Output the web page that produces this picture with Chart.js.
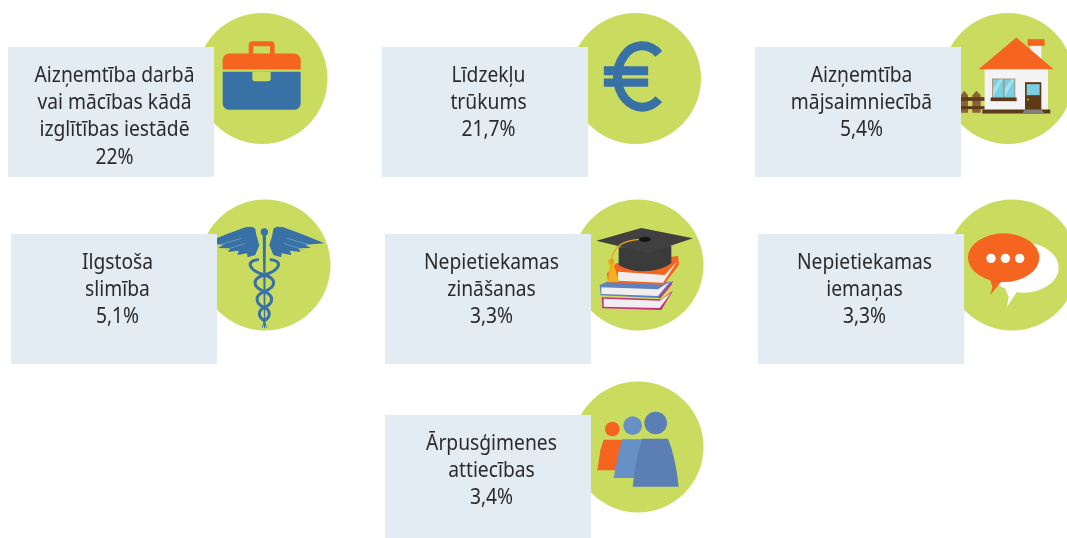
<!DOCTYPE html>
<html>
<head>
<meta charset="utf-8">
<style>
  html, body { margin: 0; padding: 0; background: #fff; overflow: hidden; }
  canvas { display: block; }
</style>
<script src="https://cdn.jsdelivr.net/npm/chart.js@4"></script>
</head>
<body>
<canvas id="chart" width="1067" height="538"></canvas>
<script>
// reasons and their shares
const categories = [
  ['Aizņemtība darbā', 'vai mācības kādā', 'izglītības iestādē'],
  ['Līdzekļu', 'trūkums'],
  ['Aizņemtība', 'mājsaimniecībā'],
  ['Ilgstoša', 'slimība'],
  ['Nepietiekamas', 'zināšanas'],
  ['Nepietiekamas', 'iemaņas'],
  ['Ārpusģimenes', 'attiecības']
];
const values = [22, 21.7, 5.4, 5.1, 3.3, 3.3, 3.4];

// layout, in page pixels
const circleX = [262, 635.5, 1008, 265, 638, 1012, 638];
const circleY = [78.5, 78.5, 78.5, 265, 265, 265, 447];
const cardX = [111, 485, 858, 114, 488, 861, 488];
const cardY = [112, 112, 112, 299, 299, 299, 480];

const GREEN = '#c9dc5f';
const ORANGE = '#f5651f';
const BLUE = '#3871a6';
const CARD = '#e3ecf2';
const TEXT = '#2b2b2d';

function poly(ctx, pts, color) {
  ctx.fillStyle = color;
  ctx.beginPath();
  pts.forEach((p, i) => i ? ctx.lineTo(p[0], p[1]) : ctx.moveTo(p[0], p[1]));
  ctx.closePath();
  ctx.fill();
}
function box(ctx, x0, y0, x1, y1, color, radii) {
  ctx.fillStyle = color;
  ctx.beginPath();
  ctx.roundRect(x0, y0, x1 - x0, y1 - y0, radii || 0);
  ctx.fill();
}
function dot(ctx, x, y, r, color) {
  ctx.fillStyle = color;
  ctx.beginPath();
  ctx.arc(x, y, r, 0, Math.PI * 2);
  ctx.fill();
}

// icons are written in 3x units, around the circle centre given as ox, oy
const icons = [
  { ox: 787, oy: 235, draw(ctx) {
    box(ctx, 747, 123, 825, 170, ORANGE, [12, 12, 0, 0]);
    box(ctx, 761, 138, 811, 165, GREEN);
    box(ctx, 669, 160, 903, 208, ORANGE, [20, 20, 0, 0]);
    box(ctx, 669, 215, 903, 329, BLUE, [0, 0, 20, 20]);
    box(ctx, 758, 215, 813, 243, GREEN, [0, 0, 8, 8]);
  } },
  { ox: 797, oy: 235, draw(ctx) {
    ctx.strokeStyle = BLUE;
    ctx.lineWidth = 27;
    ctx.beginPath();
    ctx.ellipse(817, 229, 74, 92, 0, -0.83, 0.83, true);
    ctx.stroke();
    box(ctx, 702, 198, 835, 225, BLUE);
    box(ctx, 702, 235, 835, 260, BLUE);
  } },
  { ox: 805, oy: 235, draw(ctx) {
    const brown = '#5f3a17';
    // fence
    [[663, 685], [698, 723]].forEach(p => {
      poly(ctx, [[p[0], 338], [p[0], 285], [(p[0] + p[1]) / 2, 272], [p[1], 285], [p[1], 338]], '#8a6238');
    });
    box(ctx, 640, 291, 735, 302, brown);
    box(ctx, 640, 318, 735, 327, brown);
    // house
    box(ctx, 873, 130, 905, 180, '#f4f4f6');
    box(ctx, 864, 117, 915, 137, ORANGE);
    box(ctx, 735, 205, 925, 330, '#f4f4f6');
    poly(ctx, [[717, 207], [830, 112], [942, 207]], ORANGE);
    box(ctx, 757, 235, 827, 293, '#a89880');
    box(ctx, 760, 238, 790, 291, '#7ad0e2');
    box(ctx, 795, 238, 824, 291, '#7ad0e2');
    poly(ctx, [[760, 291], [760, 265], [780, 238], [790, 238]], '#a5e0ec');
    poly(ctx, [[795, 291], [795, 265], [815, 238], [824, 238]], '#a5e0ec');
    box(ctx, 753, 292, 831, 303, brown);
    box(ctx, 856, 246, 905, 330, brown);
    box(ctx, 861, 252, 900, 285, '#7ad0e2');
    dot(ctx, 865, 298, 3, '#e9a21a');
    box(ctx, 728, 328, 932, 340, brown);
    poly(ctx, [[855, 328], [905, 328], [915, 341], [848, 341]], '#808080');
  } },
  { ox: 795, oy: 225, draw(ctx) {
    poly(ctx, [[788, 125], [798, 125], [795, 415], [792, 415]], BLUE);
    dot(ctx, 793, 126, 11, BLUE);
    const wing = [[817, 135], [820, 116], [830, 110], [850, 112], [905, 132], [973, 160], [915, 164], [932, 174],
      [895, 175], [902, 186], [870, 182], [874, 195], [845, 190], [843, 202], [820, 195], [808, 165]];
    poly(ctx, wing, BLUE);
    poly(ctx, wing.map(p => [1586 - p[0], p[1]]), BLUE);
    // thin slits between the feathers
    ctx.strokeStyle = '#7ea7bd';
    ctx.lineWidth = 2;
    [1, -1].forEach(s => {
      const x = d => 793 + s * d;
      ctx.beginPath();
      ctx.moveTo(x(68), 145);
      ctx.lineTo(x(138), 165);
      ctx.moveTo(x(58), 160);
      ctx.lineTo(x(118), 180);
      ctx.stroke();
    });
    ctx.strokeStyle = BLUE;
    ctx.lineWidth = 9;
    ctx.lineCap = 'round';
    [1, -1].forEach(s => {
      const x = d => 793 + s * d;
      ctx.beginPath();
      ctx.moveTo(x(20), 209);
      ctx.bezierCurveTo(x(55), 212, x(50), 240, x(0), 255);
      ctx.bezierCurveTo(x(-37), 265, x(-37), 290, x(0), 305);
      ctx.bezierCurveTo(x(29), 316, x(29), 340, x(0), 352);
      ctx.bezierCurveTo(x(-20), 362, x(-20), 380, x(0), 392);
      ctx.stroke();
      ctx.lineWidth = 3;
      ctx.beginPath();
      ctx.moveTo(x(0), 392);
      ctx.lineTo(x(6), 412);
      ctx.stroke();
      ctx.lineWidth = 9;
    });
    ctx.lineCap = 'butt';
  } },
  { ox: 805, oy: 225, draw(ctx) {
    const paper = '#f1eeef';
    // books, bottom up
    poly(ctx, [[696, 322], [875, 328], [910, 302], [875, 360], [698, 355]], '#c7307f');
    poly(ctx, [[702, 326], [870, 332], [903, 310], [870, 354], [702, 350]], paper);
    poly(ctx, [[690, 285], [712, 275], [910, 275], [870, 324], [693, 316]], '#5d82bd');
    poly(ctx, [[866, 322], [910, 272], [906, 284], [872, 325]], '#c7307f');
    poly(ctx, [[695, 292], [865, 298], [900, 275], [865, 318], [695, 312]], paper);
    poly(ctx, [[740, 220], [925, 198], [928, 225], [882, 284], [715, 277], [712, 250]], ORANGE);
    poly(ctx, [[745, 245], [885, 255], [922, 215], [880, 278], [745, 272]], paper);
    // cap
    ctx.fillStyle = '#3b3b3b';
    ctx.beginPath();
    ctx.moveTo(747, 172);
    ctx.lineTo(747, 225);
    ctx.bezierCurveTo(790, 252, 865, 250, 905, 220);
    ctx.lineTo(905, 168);
    ctx.closePath();
    ctx.fill();
    poly(ctx, [[680, 152], [815, 114], [970, 145], [835, 190]], '#404040');
    ctx.fillStyle = '#161616';
    ctx.beginPath();
    ctx.ellipse(825, 148, 18, 8, 0, 0, Math.PI * 2);
    ctx.fill();
    // tassel
    ctx.strokeStyle = '#e9a21a';
    ctx.lineWidth = 4;
    ctx.beginPath();
    ctx.moveTo(808, 148);
    ctx.bezierCurveTo(765, 152, 728, 165, 725, 215);
    ctx.stroke();
    poly(ctx, [[720, 222], [731, 222], [749, 275], [715, 277]], '#f2b01e');
    dot(ctx, 725, 215, 9, '#e9a21a');
  } },
  { ox: 815, oy: 225, draw(ctx) {
    ctx.fillStyle = '#fff';
    ctx.beginPath();
    ctx.ellipse(850, 233, 105, 75, 0, 0, Math.PI * 2);
    ctx.fill();
    poly(ctx, [[790, 285], [830, 305], [800, 350], [805, 320]], '#fff');
    ctx.fillStyle = ORANGE;
    ctx.beginPath();
    ctx.ellipse(790, 203, 107, 73, 0, 0, Math.PI * 2);
    ctx.fill();
    poly(ctx, [[748, 265], [785, 272], [750, 315], [756, 290]], ORANGE);
    [752, 795, 838].forEach(x => dot(ctx, x, 205, 14, '#fff'));
  } },
  { ox: 805, oy: 230, draw(ctx) {
    dot(ctx, 728, 176, 22, ORANGE);
    poly(ctx, [[702, 208], [760, 208], [760, 300], [683, 300], [692, 240]], ORANGE);
    dot(ctx, 789, 166, 28, '#6690c6');
    poly(ctx, [[757, 207], [825, 207], [825, 323], [732, 323], [745, 255]], '#6690c6');
    dot(ctx, 858, 158, 34, '#5b7fb4');
    ctx.fillStyle = '#5b7fb4';
    ctx.beginPath();
    ctx.moveTo(818, 205);
    ctx.lineTo(895, 205);
    ctx.quadraticCurveTo(918, 260, 927, 349);
    ctx.lineTo(789, 349);
    ctx.quadraticCurveTo(798, 260, 818, 205);
    ctx.fill();
  } }
];

const cardImage = document.createElement('canvas');
cardImage.width = 206;
cardImage.height = 130;
const cardCtx = cardImage.getContext('2d');
cardCtx.fillStyle = CARD;
cardCtx.fillRect(0, 0, 206, 130);

// icons go between the circles and the cards
const iconPlugin = {
  id: 'icons',
  afterDatasetDraw(chart, args) {
    if (args.index !== 1) return;
    const ctx = chart.ctx;
    const points = chart.getDatasetMeta(1).data;
    icons.forEach((icon, i) => {
      ctx.save();
      ctx.translate(points[i].x, points[i].y);
      ctx.scale(1 / 3, 1 / 3);
      ctx.translate(-icon.ox, -icon.oy);
      icon.draw(ctx);
      ctx.restore();
    });
  }
};

const labelPlugin = {
  id: 'labels',
  afterDatasetsDraw(chart) {
    const ctx = chart.ctx;
    const points = chart.getDatasetMeta(0).data;
    ctx.save();
    ctx.font = '22px "Noto Sans"';
    ctx.fillStyle = TEXT;
    ctx.textAlign = 'center';
    ctx.textBaseline = 'alphabetic';
    categories.forEach((lines, i) => {
      const text = lines.concat(String(values[i]).replace('.', ',') + '%');
      const top = points[i].y - 65 + 35;
      text.forEach((line, n) => {
        ctx.save();
        ctx.translate(points[i].x + 3.5, top + n * 27.2);
        ctx.scale(0.875, 1);
        ctx.fillText(line, 0, 0);
        ctx.restore();
      });
    });
    ctx.restore();
  }
};

new Chart(document.getElementById('chart'), {
  type: 'scatter',
  data: {
    labels: categories.map(c => c.join(' ')),
    datasets: [
      {
        label: 'kartes',
        data: cardX.map((x, i) => ({ x: x, y: cardY[i] })),
        pointStyle: cardImage,
        order: 1
      },
      {
        label: 'apļi',
        data: circleX.map((x, i) => ({ x: x, y: circleY[i] })),
        pointRadius: 65.5,
        pointBackgroundColor: GREEN,
        pointBorderWidth: 0,
        order: 2
      }
    ]
  },
  options: {
    responsive: false,
    animation: false,
    events: [],
    layout: { padding: 0, autoPadding: false },
    plugins: { legend: { display: false }, tooltip: { enabled: false } },
    scales: {
      x: { type: 'linear', min: 0, max: 1067, display: false },
      y: { type: 'linear', min: 0, max: 538, reverse: true, display: false }
    },
    clip: false
  },
  plugins: [iconPlugin, labelPlugin]
});
</script>
</body>
</html>
